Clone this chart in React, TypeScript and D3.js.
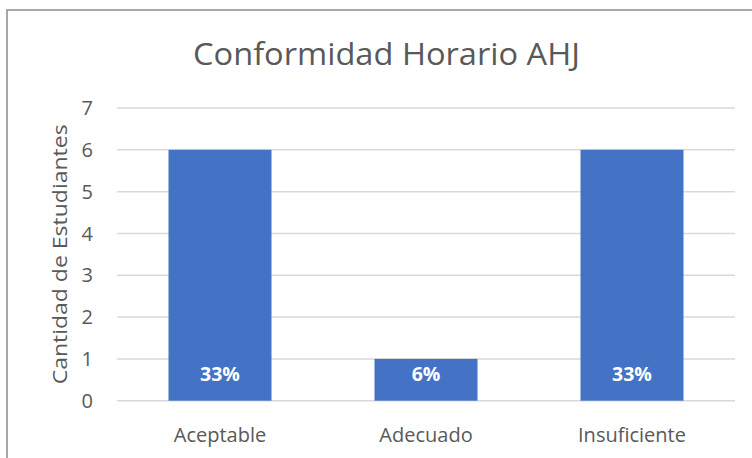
import React from "react";
import * as d3 from "d3";

const categories = ["Aceptable", "Adecuado", "Insuficiente"];
const values = [6, 1, 6];
const percentLabels = ["33%", "6%", "33%"];
const yTicks = [0, 1, 2, 3, 4, 5, 6, 7];
const title = "Conformidad Horario AHJ";
const yAxisTitle = "Cantidad de Estudiantes";

const W = 752;
const H = 458;
const plot = { left: 117, right: 735, top: 108, bottom: 400.7 };
const FONT = "'Open Sans', 'Noto Sans', sans-serif";
const TEXT = "#595959";

export default function App() {
  const x = d3
    .scaleBand<string>()
    .domain(categories)
    .range([plot.left, plot.right])
    .paddingInner(0.5)
    .paddingOuter(0.25);
  const y = d3.scaleLinear().domain([0, 7]).range([plot.bottom, plot.top]);

  return (
    <svg
      width={W}
      height={H}
      style={{ position: "absolute", left: 0, top: 0, background: "#fff" }}
      fontFamily={FONT}
    >
      <rect x={0} y={0} width={W} height={H} fill="#fff" />
      <rect x={7} y={10} width={W + 20} height={H + 20} fill="none" stroke="#8c8c8c" strokeWidth={1.5} />
      <text
        x={386.5}
        y={64.5}
        textAnchor="middle"
        fontSize={31}
        fill={TEXT}
        fontWeight={400}
        textLength={387}
        lengthAdjust="spacingAndGlyphs"
      >
        {title}
      </text>
      {yTicks.map((t) => (
        <g key={t}>
          <line x1={plot.left} x2={plot.right} y1={y(t)} y2={y(t)} stroke="#d9d9d9" strokeWidth={1.5} />
          <text x={93} y={y(t)} dy="0.36em" textAnchor="end" fontSize={20} fill={TEXT}>
            {t}
          </text>
        </g>
      ))}
      <text
        transform={`translate(67, ${(plot.top + plot.bottom) / 2}) rotate(-90)`}
        textAnchor="middle"
        fontSize={20.5}
        fill={TEXT}
        textLength={260}
        lengthAdjust="spacingAndGlyphs"
      >
        {yAxisTitle}
      </text>
      {categories.map((c, i) => (
        <g key={c}>
          <rect
            x={x(c)!}
            y={y(values[i])}
            width={x.bandwidth()}
            height={y(0) - y(values[i])}
            fill="#4472c4"
          />
          <text
            x={x(c)! + x.bandwidth() / 2}
            y={381}
            textAnchor="middle"
            fontSize={19.5}
            fontWeight={700}
            fill="#ffffff"
          >
            {percentLabels[i]}
          </text>
          <text x={x(c)! + x.bandwidth() / 2} y={442} textAnchor="middle" fontSize={20} fill={TEXT}>
            {c}
          </text>
        </g>
      ))}
    </svg>
  );
}
